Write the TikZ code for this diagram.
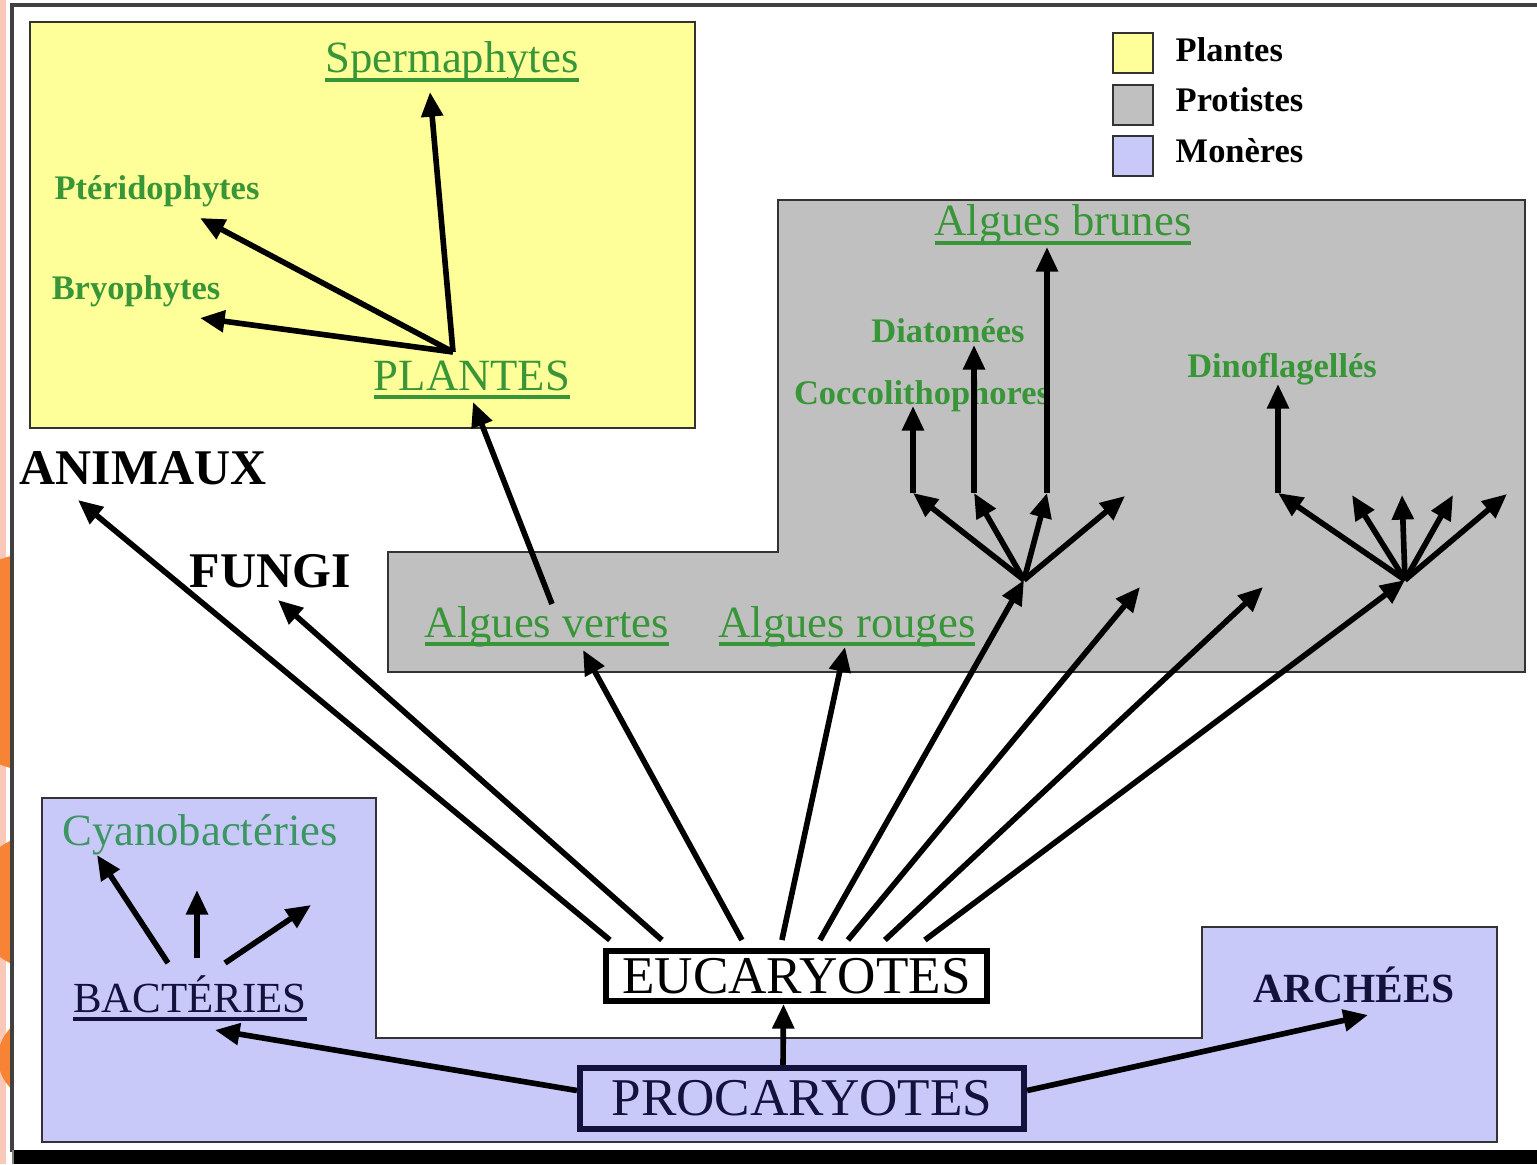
\documentclass[tikz,border=0pt]{standalone}
\usepackage{fontspec}
\setmainfont{Liberation Serif}
\usetikzlibrary{arrows.meta,calc}

\definecolor{jaune}{RGB}{255,255,153}
\definecolor{gris}{RGB}{192,192,192}
\definecolor{lavande}{RGB}{201,201,249}
\definecolor{vert}{RGB}{56,150,56}
\definecolor{cyanovert}{RGB}{60,150,100}
\definecolor{marine}{RGB}{18,18,60}
\definecolor{orangediapo}{RGB}{247,132,52}
\definecolor{rose}{RGB}{250,200,185}

% texte souligne (trait epais)
\newcommand{\souligne}[1]{\setbox0=\hbox{#1}\rlap{\rule[-2.6pt]{\wd0}{1.1pt}}\box0}

\begin{document}
\begin{tikzpicture}[x=0.01cm, y=-0.01cm,
    fleche/.style={line width=1.6pt, -{Triangle[length=7pt,width=6pt]}},
    zone/.style={draw=black!80, line width=0.6pt},
    carre/.style={draw=black!80, line width=0.8pt, minimum size=0.4cm, inner sep=0pt},
    groupe/.style={anchor=base, inner sep=0pt, font=\fontsize{12.7}{15}\selectfont, text=vert},
    taxon/.style={anchor=base, inner sep=0pt, font=\fontsize{9.8}{12}\selectfont\bfseries, text=vert},
    regne/.style={anchor=base, inner sep=0pt, font=\fontsize{14.2}{17}\selectfont\bfseries},
    legende/.style={anchor=base west, inner sep=0pt, font=\fontsize{9.8}{12}\selectfont\bfseries},
    boite/.style={draw, line width=1.7pt, inner sep=0pt, font=\fontsize{15.1}{18}\selectfont}
  ]
  \useasboundingbox (0,0) rectangle (1537,1164);

  % bord de la diapo
  \fill[rose] (0,0) rectangle (6,1164);
  \begin{scope}
    \clip (0,0) rectangle (12,1164);
    \fill[orangediapo] (40,662) circle (110);
    \fill[orangediapo] (40,902) circle (68);
    \fill[orangediapo] (40,1058) circle (42);
  \end{scope}
  \draw[black!75, line width=1pt] (12,1152) -- (12,5) -- (1537,5);
  \fill[black] (14,1150) rectangle (1537,1164);
  \fill[black!50] (12,1150) rectangle (14,1164);

  % zones colorees
  \draw[zone, fill=jaune] (30,22) rectangle (695,428);
  \draw[zone, fill=gris] (778,200) -- (1525,200) -- (1525,672) -- (388,672)
    -- (388,552) -- (778,552) -- cycle;
  \draw[zone, fill=lavande] (42,798) -- (376,798) -- (376,1038) -- (1202,1038)
    -- (1202,927) -- (1497,927) -- (1497,1142) -- (42,1142) -- cycle;

  % legende
  \node[carre, fill=jaune] (cPlantes) at (1133,53) {};
  \node[carre, fill=gris] (cProtistes) at (1133,105) {};
  \node[carre, fill=lavande] (cMoneres) at (1133,156) {};
  \node[legende] (lPlantes) at (1175,62) {Plantes};
  \node[legende] (lProtistes) at (1175,112) {Protistes};
  \node[legende] (lMoneres) at (1175,163) {Monères};

  % Plantes
  \node[groupe] (spermaphytes) at (452,73) {\souligne{Spermaphytes}};
  \node[taxon] (pteridophytes) at (157,200) {Ptéridophytes};
  \node[taxon] (bryophytes) at (136,300) {Bryophytes};
  \node[groupe] (plantes) at (472,390) {\souligne{PLANTES}};

  % Protistes
  \node[groupe] (alguesBrunes) at (1063,236) {\souligne{Algues brunes}};
  \node[taxon] (diatomees) at (948,343) {Diatomées};
  \node[taxon] (cocco) at (922,404) {Coccolithophores};
  \node[taxon] (dino) at (1282,377) {Dinoflagellés};
  \node[groupe] (alguesVertes) at (547,637) {\souligne{Algues vertes}};
  \node[groupe] (alguesRouges) at (847,637) {\souligne{Algues rouges}};

  % Animaux, champignons
  \node[regne] (animaux) at (143,484) {ANIMAUX};
  \node[regne] (fungi) at (270,587) {FUNGI};

  % Moneres
  \node[groupe, text=cyanovert] (cyano) at (200,845) {Cyanobactéries};
  \node[groupe, text=marine, font=\fontsize{12.2}{15}\selectfont] (bacteries) at (190,1012) {\souligne{BACTÉRIES}};
  \node[regne, text=marine, font=\fontsize{11.8}{14}\selectfont\bfseries] (archees) at (1354,1002) {ARCHÉES};

  \node[boite, fill=white, minimum width=3.81cm, minimum height=0.5cm] (eucaryotes) at (796.5,976) {EUCARYOTES};
  \node[boite, fill=lavande, draw=marine, text=marine, minimum width=4.44cm, minimum height=0.61cm] (procaryotes) at (802,1098.5) {PROCARYOTES};

  % points des fleches
  \coordinate (tAnimaux) at (78,500);
  \coordinate (tFungi) at (278,600);
  \coordinate (tVertes) at (583,650);
  \coordinate (tRouges) at (845,647);
  \coordinate (fanA) at (1024,580);
  \coordinate (tLibre1) at (1140,587);
  \coordinate (tLibre2) at (1263,587);
  \coordinate (fanB) at (1405,580);
  \coordinate (dVertes) at (552,604);
  \coordinate (tPlantes) at (473,402);
  \coordinate (fanP) at (453,352);
  \coordinate (tSperma) at (430,92);
  \coordinate (tPterido) at (200,218);
  \coordinate (tBryo) at (200,318);
  \coordinate (a1) at (913,493);
  \coordinate (a2) at (974,493);
  \coordinate (a3) at (1047,493);
  \coordinate (a4) at (1125,496);
  \coordinate (tCocco) at (913,406);
  \coordinate (tDiatom) at (974,345);
  \coordinate (tBrunes) at (1047,247);
  \coordinate (b1) at (1278,493);
  \coordinate (b2) at (1352,495);
  \coordinate (b3) at (1402,495);
  \coordinate (b4) at (1453,495);
  \coordinate (b5) at (1507,494);
  \coordinate (tDino) at (1278,384);
  \coordinate (s1) at (168,963);
  \coordinate (s2) at (197,958);
  \coordinate (s3) at (225,963);
  \coordinate (tCyano1) at (97,855);
  \coordinate (tCyano2) at (197,890);
  \coordinate (tCyano3) at (311,905);
  \coordinate (tBact) at (215,1030);
  \coordinate (tArchees) at (1368,1015);

  % depuis les eucaryotes
  \foreach \dx/\cible in {7/tAnimaux, 59/tFungi, 139/tVertes, 179/tRouges,
      217/fanA, 245/tLibre1, 282/tLibre2, 322/fanB}
    \draw[fleche] ($(eucaryotes.north west)+(\dx,-8)$) -- (\cible);

  % plantes
  \draw[fleche] (dVertes) -- (tPlantes);
  \foreach \cible in {tSperma, tPterido, tBryo}
    \draw[fleche] (fanP) -- (\cible);

  % protistes
  \foreach \cible in {a1, a2, a3, a4}
    \draw[fleche] (fanA) -- (\cible);
  \draw[fleche] (a1) -- (tCocco);
  \draw[fleche] (a2) -- (tDiatom);
  \draw[fleche] (a3) -- (tBrunes);
  \foreach \cible in {b1, b2, b3, b4, b5}
    \draw[fleche] (fanB) -- (\cible);
  \draw[fleche] (b1) -- (tDino);

  % bacteries
  \draw[fleche] (s1) -- (tCyano1);
  \draw[fleche] (s2) -- (tCyano2);
  \draw[fleche] (s3) -- (tCyano3);

  % procaryotes
  \draw[fleche] ($(procaryotes.west)+(0,-8)$) -- (tBact);
  \draw[fleche] ($(procaryotes.north)+(-19,0)$) -- ($(eucaryotes.south)+(-13,0)$);
  \draw[fleche] ($(procaryotes.east)+(0,-8)$) -- (tArchees);
\end{tikzpicture}
\end{document}
